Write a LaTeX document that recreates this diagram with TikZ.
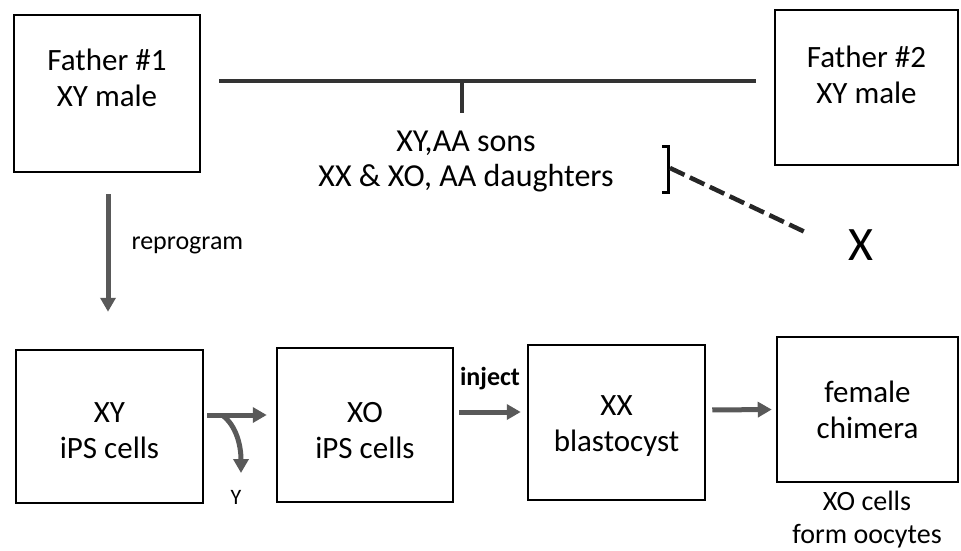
\documentclass[tikz,border=0pt]{standalone}
\usepackage{fontspec}
\setmainfont{Carlito}
\usetikzlibrary{arrows.meta}
\tikzset{
  box/.style={draw, line width=2.5pt, inner sep=0pt},
  txt/.style={align=center, font=\fontsize{31}{36}\selectfont},
  small/.style={font=\fontsize{26}{30}\selectfont},
  flow/.style={line width=5pt, gray!70!black, -{Triangle[width=15pt,length=14pt]}},
  mate/.style={line width=4pt, gray!40!black}
}
\begin{document}
\begin{tikzpicture}[x=1pt,y=-1pt]
    \useasboundingbox (0,0) rectangle (961,551);
    % Parents
    \node[box, minimum width=186, minimum height=157] (f1) at (107,93.5) {};
    \node[txt] (f1t) at (107,78) {Father \#1\\XY male};
    \node[box, minimum width=183, minimum height=155] (f2) at (866.5,87.5) {};
    \node[txt] (f2t) at (866.5,75) {Father \#2\\XY male};
    % Cross and offspring
    \coordinate (mL) at (219,81);
    \coordinate (mM) at (462,81);
    \coordinate (mR) at (756,81);
    \draw[mate] (mL) -- (mR);
    \node[txt, font=\fontsize{32}{35}\selectfont] (kids) at (466,161) {XY,AA sons\\XX \& XO, AA daughters};
    \draw[mate] (mM) -- (462,113);
    \draw[line width=3pt] (662,146) -- (668,146) -- (668,192) -- (662,192);
    \node[txt, font=\fontsize{48}{52}\selectfont] (xlost) at (861,245) {X};
    \draw[line width=4.5pt, gray!30!black, dash pattern=on 16pt off 6pt] (670,168) -- (805,232);
    % Bottom row
    \node[box, minimum width=187, minimum height=153] (xy) at (109.5,426.5) {};
    \node[txt] (xyt) at (109.5,431) {XY\\iPS cells};
    \node[box, minimum width=176, minimum height=154] (xo) at (365,425) {};
    \node[txt] (xot) at (365,431) {XO\\iPS cells};
    \node[box, minimum width=177, minimum height=155] (xx) at (616.5,422.5) {};
    \node[txt] (xxt) at (616.5,426) {XX\\blastocyst};
    \node[box, minimum width=181, minimum height=145] (chim) at (867.5,409.5) {};
    \node[txt] (chimt) at (867.5,410) {female\\chimera};
    \node[txt, font=\fontsize{28}{33}\selectfont] (oo) at (867,520) {XO cells\\form oocytes};
    % Arrows
    \draw[flow, shorten <=21pt, shorten >=37pt] (f1.south -| 108,0) -- (xy.north -| 108,0);
    \node[small, anchor=west] (rep) at (128,245) {reprogram};
    \draw[flow, shorten <=3pt, shorten >=9pt] ([yshift=11.5]xy.east) -- ([yshift=10]xo.west);
    \coordinate (split) at (222,415);
    \draw[flow] (split) .. controls (236,425) and (241,445) .. (241,473);
    \node[font=\fontsize{22}{26}\selectfont] (ylost) at (236,497) {Y};
    \draw[flow, shorten <=5pt, shorten >=6pt] ([yshift=13]xo.east) -- ([yshift=10.5]xx.west);
    \node[font=\fontsize{26}{30}\selectfont\bfseries] (inj) at (490,379) {inject};
    \draw[flow, shorten <=6pt, shorten >=4pt] ([yshift=12.5]xx.east) -- (chim.west);
\end{tikzpicture}
\end{document}
